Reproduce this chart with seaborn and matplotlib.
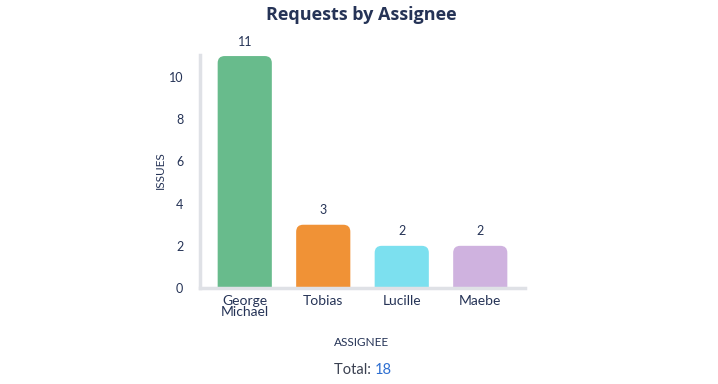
import matplotlib
matplotlib.use("Agg")
import matplotlib.pyplot as plt
import seaborn as sns
from matplotlib.patches import FancyBboxPatch

# data
assignees = ["George\nMichael", "Tobias", "Lucille", "Maebe"]
issues = [11, 3, 2, 2]
bar_colors = ["#68bb8c", "#f09236", "#7ce0ef", "#cfb2df"]
total = sum(issues)

NAVY = "#253356"
SPINE = "#dfe1e6"

sns.set_style("white")
plt.rcParams["font.family"] = ["Lato", "DejaVu Sans"]

fig = plt.figure(figsize=(7.18, 3.84), dpi=100)
ax = fig.add_axes([200 / 718, 1 - 288 / 384, 325 / 718, 233 / 384])

sns.barplot(x=assignees, y=issues, hue=assignees, palette=bar_colors,
            legend=False, width=0.69, ax=ax, saturation=1)

ax.set_xlim(-0.57, 3.57)
ax.set_ylim(0, 11.05)

# px per data unit to keep corner round
bbox = ax.get_window_extent()
px_x = bbox.width / (3.57 + 0.57)
px_y = bbox.height / 11.05
r = 7 / px_x
aspect = px_x / px_y

# swap the plain bars for rounded-top ones
for p in list(ax.patches):
    x0, w, h = p.get_x(), p.get_width(), p.get_height()
    c = p.get_facecolor()
    p.remove()
    ext = 0.6
    rb = FancyBboxPatch((x0, -ext), w, h + ext,
                        boxstyle=f"round,pad=0,rounding_size={r}",
                        mutation_aspect=aspect, facecolor=c, edgecolor="none",
                        clip_on=True, zorder=2)
    ax.add_patch(rb)

# value labels
for i, v in enumerate(issues):
    ax.annotate(str(v), (i, v), xytext=(0, 6), textcoords="offset points",
                ha="center", va="bottom", fontsize=9, color=NAVY)

sns.despine(ax=ax)
for side in ["left", "bottom"]:
    ax.spines[side].set_color(SPINE)
    ax.spines[side].set_linewidth(2.5)
    ax.spines[side].set_zorder(3)

ax.set_yticks([0, 2, 4, 6, 8, 10])
ax.tick_params(axis="both", length=0, labelcolor=NAVY)
ax.tick_params(axis="x", pad=5, labelsize=10)
ax.tick_params(axis="y", pad=12, labelsize=9)
for t in ax.get_xticklabels():
    t.set_linespacing(0.9)
    t.set_va("top")

ax.set_xlabel("")
ax.set_ylabel("")

# titles
fig.text(0.503, 1 - 15 / 384, "Requests by Assignee", ha="center", va="center",
         fontsize=13, fontweight="bold", color=NAVY, family=["Open Sans", "DejaVu Sans"])
fig.text(160 / 718, 1 - 170 / 384, "ISSUES", rotation=90, ha="center", va="center",
         fontsize=8.5, color=NAVY)
fig.text(362 / 718, 1 - 342 / 384, "ASSIGNEE", ha="center", va="center",
         fontsize=8.5, color=NAVY)
fig.text(375 / 718, 1 - 370 / 384, "Total: ", ha="right", va="center",
         fontsize=10.5, color="#3a4050")
fig.text(375 / 718, 1 - 370 / 384, str(total), ha="left", va="center",
         fontsize=10.5, color="#2e6fd1")

plt.savefig("out.png", dpi=100)
plt.close()
